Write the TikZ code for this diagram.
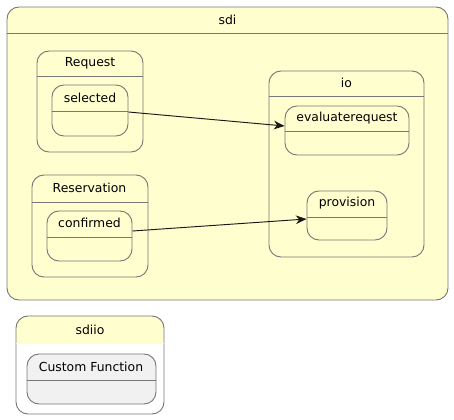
\documentclass[tikz,border=0pt]{standalone}
\usepackage{fontspec}
\setmainfont{DejaVu Sans}
\usetikzlibrary{fit,arrows.meta}
\definecolor{statefill}{HTML}{FEFECE}
\definecolor{linec}{HTML}{777777}
\definecolor{custfill}{HTML}{F1F1F1}
\definecolor{arrc}{HTML}{181818}
\tikzset{
  st/.style={draw=linec, line width=0.7pt, fill=statefill, rounded corners=9pt, inner sep=0pt},
  cst/.style={st, fill=custfill},
  ln/.style={draw=linec, line width=0.7pt},
  lbl/.style={font=\fontsize{9.3pt}{11pt}\selectfont, inner sep=0pt, text=black},
  arr/.style={draw=arrc, line width=0.7pt, -{Stealth[length=8pt,width=6.5pt,inset=2.5pt]}}
}
\begin{document}
\begin{tikzpicture}[x=0.75pt,y=-0.75pt]
\useasboundingbox (0,0) rectangle (454,419);
% sdi
\node[st, fit={(7,7) (448,300)}] (sdi) {};
\draw[ln] (sdi.west |- 0,33) -- (sdi.east |- 0,33);
\node[lbl] (sdiT) at (227.5,20) {sdi};
% Request
\node[st, fit={(37,51) (143,152)}] (req) {};
\draw[ln] (req.west |- 0,76) -- (req.east |- 0,76);
\node[lbl] (reqT) at (90,63) {Request};
\node[st, fit={(52,85) (128,136)}] (sel) {};
\draw[ln] (sel.west |- 0,111) -- (sel.east |- 0,111);
\node[lbl] (selT) at (90,98) {selected};
% Reservation
\node[st, fit={(32,175) (148,277)}] (res) {};
\draw[ln] (res.west |- 0,202) -- (res.east |- 0,202);
\node[lbl] (resT) at (89.5,188) {Reservation};
\node[st, fit={(47,211) (132,261)}] (conf) {};
\draw[ln] (conf.west |- 0,237) -- (conf.east |- 0,237);
\node[lbl] (confT) at (89.5,223) {confirmed};
% io
\node[st, fit={(269,71) (424,257)}] (io) {};
\draw[ln] (io.west |- 0,96) -- (io.east |- 0,96);
\node[lbl] (ioT) at (346.5,83) {io};
\node[st, fit={(285,106) (409,155)}] (eval) {};
\draw[ln] (eval.west |- 0,131) -- (eval.east |- 0,131);
\node[lbl] (evalT) at (347,118) {evaluaterequest};
\node[st, fit={(307,191) (387,240)}] (prov) {};
\draw[ln] (prov.west |- 0,217) -- (prov.east |- 0,217);
\node[lbl] (provT) at (347,203) {provision};
% arrows
\draw[arr] (sel.east |- 0,112) -- (eval.west |- 0,126);
\draw[arr] (conf.east |- 0,231) -- (prov.west |- 0,219);
% sdiio
\begin{scope}
\clip[rounded corners=9pt] (16,316) rectangle (164,414);
\fill[statefill] (16,316) rectangle (164,343);
\fill[white] (16,343) rectangle (164,414);
\end{scope}
\node[draw=linec, line width=0.7pt, rounded corners=9pt, inner sep=0pt, fit={(16,316) (164,414)}] (sdiio) {};
\draw[draw=statefill, line width=0.6pt] ([xshift=0.5pt]sdiio.west |- 0,343) -- ([xshift=-0.5pt]sdiio.east |- 0,343);
\node[lbl] (sdiioT) at (90,330) {sdiio};
\node[cst, fit={(27,354) (156,404)}] (cf) {};
\draw[ln] (cf.west |- 0,380) -- (cf.east |- 0,380);
\node[lbl] (cfT) at (91,367) {Custom Function};
\end{tikzpicture}
\end{document}
